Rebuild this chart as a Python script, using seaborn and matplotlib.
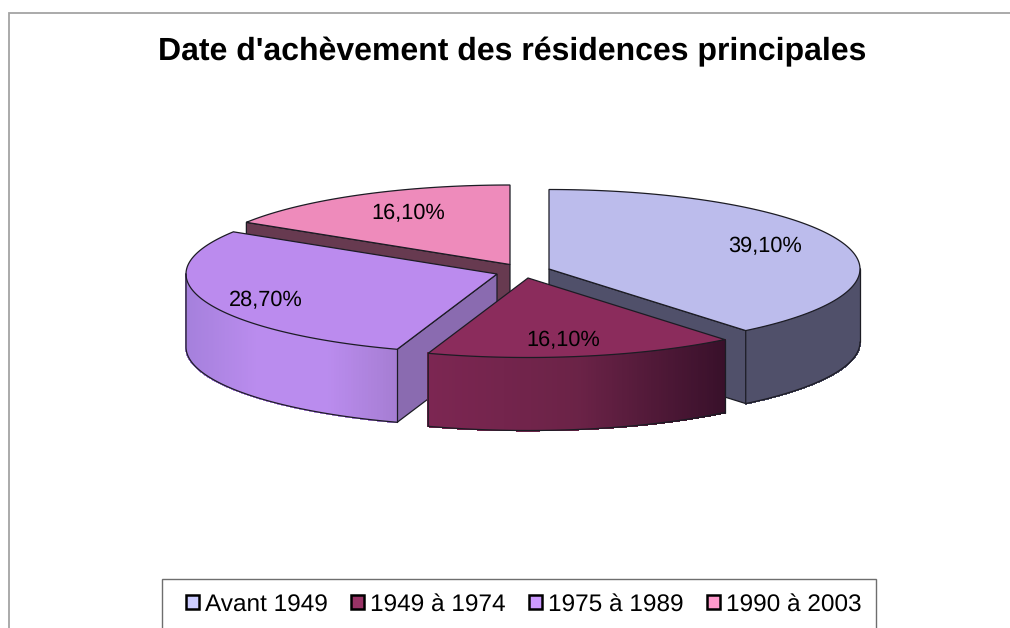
import numpy as np
import seaborn as sns
import matplotlib.pyplot as plt
from matplotlib.colors import to_rgb
from matplotlib.patches import Patch, Rectangle

title = "Date d'achèvement des résidences principales"
categories = ["Avant 1949", "1949 à 1974", "1975 à 1989", "1990 à 2003"]
values = [39.1, 16.1, 28.7, 16.1]

legend_colors = ["#ccccff", "#993366", "#cc99ff", "#ff99cc"]
top_colors = ["#bcbcec", "#8b2c5c", "#bb8bee", "#ee8bbb"]
face_colors = ["#50506a", "#5a1f3e", "#8a6bb0", "#673a50"]
wall_stops = [
    ["#50506a", "#50506a"],
    ["#7c2652", "#6b2347", "#38102a"],
    ["#a580dc", "#ba8cee", "#ba8cee", "#a57dd2"],
    ["#ee8bbb", "#ee8bbb"],
]

# pie geometry in pixels, the axes below maps 1:1 to the image
centers = [(549, 269), (528, 278), (497, 274), (510, 264.5)]
label_pos = [(765, 246.5), (563, 340.5), (266, 300.5), (408, 213.5)]
rx, ry, depth = 311, 79.5, 73
line_col = "#1c1c24"

sns.set_theme(style="white")
plt.rcParams["font.family"] = ["Liberation Sans", "DejaVu Sans"]
plt.rcParams["text.hinting"] = "no_hinting"

fig = plt.figure(figsize=(10.1, 6.28), dpi=100)
ax = fig.add_axes([0, 0, 1, 1])
ax.set_xlim(0, 1010)
ax.set_ylim(628, 0)
ax.axis("off")

# chart frame, cut by the image on the right and at the bottom
ax.plot([9, 9, 1010], [628, 13, 13], color="#a4a4a4", lw=1.3, solid_joinstyle="miter")


def arc(cx, cy, a0, a1, n=120):
    t = np.radians(np.linspace(a0, a1, n))
    return cx + rx * np.sin(t), cy - ry * np.cos(t)


def mix(stops, f):
    rgb = np.array([to_rgb(c) for c in stops])
    pos = np.linspace(0, 1, len(stops))
    return [np.interp(f, pos, rgb[:, i]) for i in range(3)]


edges = np.concatenate([[0], np.cumsum(values)]) * 3.6


def draw_slice(i):
    a0, a1 = edges[i], edges[i + 1]
    cx, cy = centers[i]

    # radial faces that look towards the viewer
    for a, test in ((a0, np.sin(np.radians(a0)) < -1e-6), (a1, np.sin(np.radians(a1)) > 1e-6)):
        if test:
            x, y = arc(cx, cy, a, a, 2)
            px = [cx, x[0], x[0], cx]
            py = [cy, y[0], y[0] + depth, cy + depth]
            ax.fill(px, py, facecolor=face_colors[i], edgecolor=line_col, lw=0.9)

    # outer wall, only the lower half of the ellipse shows
    w0, w1 = max(a0, 90), min(a1, 270)
    if w1 > w0:
        x, y = arc(cx, cy, w0, w1)
        xmin, xmax = x.min(), x.max()
        for k in range(len(x) - 1):
            f = ((x[k] + x[k + 1]) / 2 - xmin) / (xmax - xmin)
            c = mix(wall_stops[i], f)
            ax.fill([x[k], x[k + 1], x[k + 1], x[k]],
                    [y[k], y[k + 1], y[k + 1] + depth, y[k] + depth],
                    facecolor=c, edgecolor=c, lw=0.8, antialiased=False)
        ax.plot(np.r_[x[0], x, x[-1]], np.r_[y[0] + depth, y + depth, y[-1]],
                color=line_col, lw=0.9)
        ax.plot([x[0], x[0]], [y[0], y[0] + depth], color=line_col, lw=0.9)

    # top face
    x, y = arc(cx, cy, a0, a1)
    ax.fill(np.r_[cx, x], np.r_[cy, y], facecolor=top_colors[i], edgecolor=line_col, lw=0.9)


for i in [3, 2, 0, 1]:
    draw_slice(i)

for v, (lx, ly) in zip(values, label_pos):
    ax.text(lx, ly, f"{v:.2f}%".replace(".", ","), ha="center", va="center",
            fontsize=15.7, color="black")

ax.text(512, 52, title, ha="center", va="center", fontsize=23, fontweight="bold", color="black")

# legend box runs off the bottom of the image
ax.add_patch(Rectangle((162, 579), 714, 52, facecolor="white", edgecolor="#6e6e6e", lw=1.0))
handles = [Patch(facecolor=c, edgecolor="black", lw=1.8) for c in legend_colors]
leg = ax.legend(handles, categories, ncol=4, frameon=False, loc="center left",
                bbox_to_anchor=(186 / 1010, 1 - 604.5 / 628), fontsize=17.6, borderpad=0, borderaxespad=0,
                handlelength=0.52, handleheight=0.5, handletextpad=0.25, columnspacing=0.96,
                labelcolor="black")
# first label sits a pixel high next to the ones with an accent
leg.get_texts()[0].set_y(-1)

fig.savefig("out.png", dpi=100)
